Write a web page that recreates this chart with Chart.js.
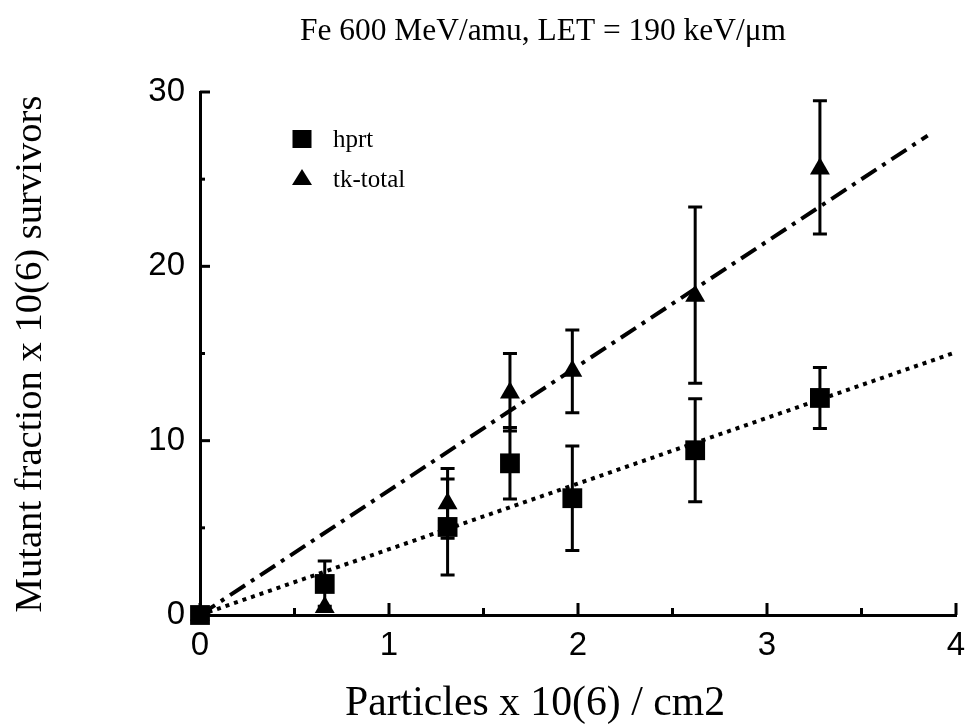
<!DOCTYPE html>
<html>
<head>
<meta charset="utf-8">
<script src="https://cdn.jsdelivr.net/npm/chart.js@4/dist/chart.umd.min.js"></script>
<style>
html,body{margin:0;padding:0;background:#fff;}
#wrap{width:970px;height:724px;}
</style>
</head>
<body>
<div id="wrap"><canvas id="c" width="970" height="724"></canvas></div>
<script>
// ---- data ----
const chartTitle = 'Fe 600 MeV/amu, LET = 190 keV/\u03bcm';
const xTitle = 'Particles x 10(6) / cm2';
const yTitle = 'Mutant fraction x 10(6) survivors';
const seriesNames = ['hprt', 'tk-total'];

const fluence = [0, 0.66, 1.31, 1.64, 1.97, 2.62, 3.28];

const hprtMean = [0, 1.78, 5.05, 8.7, 6.7, 9.45, 12.45];
const hprtLow  = [null, 0.5, 2.3, 6.65, 3.7, 6.5, 10.7];
const hprtHigh = [null, 3.1, 7.8, 10.75, 9.7, 12.4, 14.2];

const tkMean = [0, 0.45, 6.4, 12.75, 14.0, 18.3, 25.6];
const tkLow  = [null, null, 4.4, 10.55, 11.6, 13.3, 21.85];
const tkHigh = [null, null, 8.4, 15.0, 16.35, 23.4, 29.5];

const hprtFitX = [0, 3.98];
const hprtFitY = [0, 15.0];
const tkFitX = [0, 3.85];
const tkFitY = [0, 27.5];

const xMajorTicks = [0, 1, 2, 3, 4];
const yMajorTicks = [0, 10, 20, 30];

// ---- helpers ----
const pts = (xs, ys) => xs.map((x, i) => ({x: x, y: ys[i]}));
const SERIF = '"Liberation Serif", "DejaVu Serif", serif';
const SANS = '"Liberation Sans", Arial, sans-serif';

function fitFont(ctx, text, target, family, weight) {
  ctx.font = (weight || '') + ' 100px ' + family;
  const w = ctx.measureText(text).width;
  return (weight || '') + ' ' + (100 * target / w).toFixed(2) + 'px ' + family;
}

const overlay = {
  id: 'overlay',
  beforeDatasetsDraw(chart) {
    const ctx = chart.ctx, xs = chart.scales.x, ys = chart.scales.y;
    ctx.save();
    ctx.strokeStyle = '#000';
    ctx.lineWidth = 3;
    const draw = (lo, hi) => {
      fluence.forEach((f, i) => {
        if (lo[i] == null || hi[i] == null) return;
        const x = xs.getPixelForValue(f);
        const y1 = ys.getPixelForValue(lo[i]);
        const y2 = ys.getPixelForValue(hi[i]);
        ctx.beginPath();
        ctx.moveTo(x, y1); ctx.lineTo(x, y2);
        ctx.moveTo(x - 7, y1); ctx.lineTo(x + 7, y1);
        ctx.moveTo(x - 7, y2); ctx.lineTo(x + 7, y2);
        ctx.stroke();
      });
    };
    draw(hprtLow, hprtHigh);
    draw(tkLow, tkHigh);
    ctx.restore();
  },
  afterDraw(chart) {
    const ctx = chart.ctx, xs = chart.scales.x, ys = chart.scales.y;
    const a = chart.chartArea;
    ctx.save();
    ctx.strokeStyle = '#000';
    ctx.fillStyle = '#000';
    ctx.lineWidth = 3;
    // inward ticks on x axis
    xs.ticks.forEach(t => {
      const x = xs.getPixelForValue(t.value);
      const major = xMajorTicks.includes(t.value);
      ctx.beginPath();
      ctx.moveTo(x, a.bottom);
      ctx.lineTo(x, a.bottom - (major ? 12 : 7));
      ctx.stroke();
    });
    // inward ticks on y axis
    ys.ticks.forEach(t => {
      const y = ys.getPixelForValue(t.value);
      const major = yMajorTicks.includes(t.value);
      ctx.beginPath();
      ctx.moveTo(a.left, y);
      ctx.lineTo(a.left + (major ? 10 : 5), y);
      ctx.stroke();
    });
    // legend
    const lx = a.left + 102, ly1 = a.top + 47, ly2 = a.top + 87;
    ctx.fillRect(lx - 9.5, ly1 - 9, 19, 18);
    ctx.beginPath();
    ctx.moveTo(lx, ly2 - 10);
    ctx.lineTo(lx + 10, ly2 + 6);
    ctx.lineTo(lx - 10, ly2 + 6);
    ctx.closePath();
    ctx.fill();
    ctx.font = '25px ' + SERIF;
    ctx.textAlign = 'left';
    ctx.textBaseline = 'middle';
    ctx.fillText(seriesNames[0], lx + 31, ly1 + 1);
    ctx.fillText(seriesNames[1], lx + 31, ly2 + 1);
    // title
    ctx.textAlign = 'center';
    ctx.font = fitFont(ctx, chartTitle, 486, SERIF);
    ctx.fillText(chartTitle, 543, 32);
    // x title
    ctx.font = fitFont(ctx, xTitle, 380, SERIF);
    ctx.fillText(xTitle, 535, 704);
    // y title
    ctx.translate(31, 354);
    ctx.rotate(-Math.PI / 2);
    ctx.font = fitFont(ctx, yTitle, 517, SERIF);
    ctx.fillText(yTitle, 0, 0);
    ctx.restore();
  }
};

new Chart(document.getElementById('c'), {
  type: 'scatter',
  data: {
    datasets: [
      {
        label: seriesNames[0] + ' fit', type: 'line',
        data: pts(hprtFitX, hprtFitY),
        borderColor: '#000', borderWidth: 4, borderDash: [4, 5],
        pointRadius: 0, fill: false, tension: 0
      },
      {
        label: seriesNames[1] + ' fit', type: 'line',
        data: pts(tkFitX, tkFitY),
        borderColor: '#000', borderWidth: 4, borderDash: [18, 7, 4, 7],
        pointRadius: 0, fill: false, tension: 0
      },
      {
        label: seriesNames[1],
        data: pts(fluence, tkMean),
        pointStyle: 'triangle', pointRadius: 11.5, clip: false,
        backgroundColor: '#000', borderColor: '#000', borderWidth: 0
      },
      {
        label: seriesNames[0],
        data: pts(fluence, hprtMean),
        pointStyle: 'rect', pointRadius: 14, clip: false,
        backgroundColor: '#000', borderColor: '#000', borderWidth: 0
      }
    ]
  },
  options: {
    responsive: false,
    animation: false,
    devicePixelRatio: 1,
    layout: { padding: { left: 0, right: 7, top: 92, bottom: 0 } },
    plugins: { legend: { display: false }, tooltip: { enabled: false }, title: { display: false } },
    scales: {
      x: {
        type: 'linear', min: 0, max: 4,
        afterFit(s) { s.height = 109; s.paddingRight = 0; s.paddingLeft = 0; },
        ticks: {
          stepSize: 0.5, padding: 11, color: '#000',
          font: { family: SANS, size: 33 },
          callback: v => (xMajorTicks.includes(v) ? String(v) : '')
        },
        grid: { display: true, drawOnChartArea: false, drawTicks: false, color: 'rgba(0,0,0,0)' },
        border: { display: true, color: '#000', width: 3 }
      },
      y: {
        type: 'linear', min: 0, max: 30,
        afterFit(s) { s.width = 200; s.paddingTop = 0; s.paddingBottom = 0; },
        ticks: {
          stepSize: 5, padding: 15, color: '#000',
          font: { family: SANS, size: 33 },
          callback: v => (yMajorTicks.includes(v) ? String(v) : '')
        },
        grid: { display: true, drawOnChartArea: false, drawTicks: false, color: 'rgba(0,0,0,0)' },
        border: { display: true, color: '#000', width: 3 }
      }
    }
  },
  plugins: [overlay]
});
</script>
</body>
</html>
